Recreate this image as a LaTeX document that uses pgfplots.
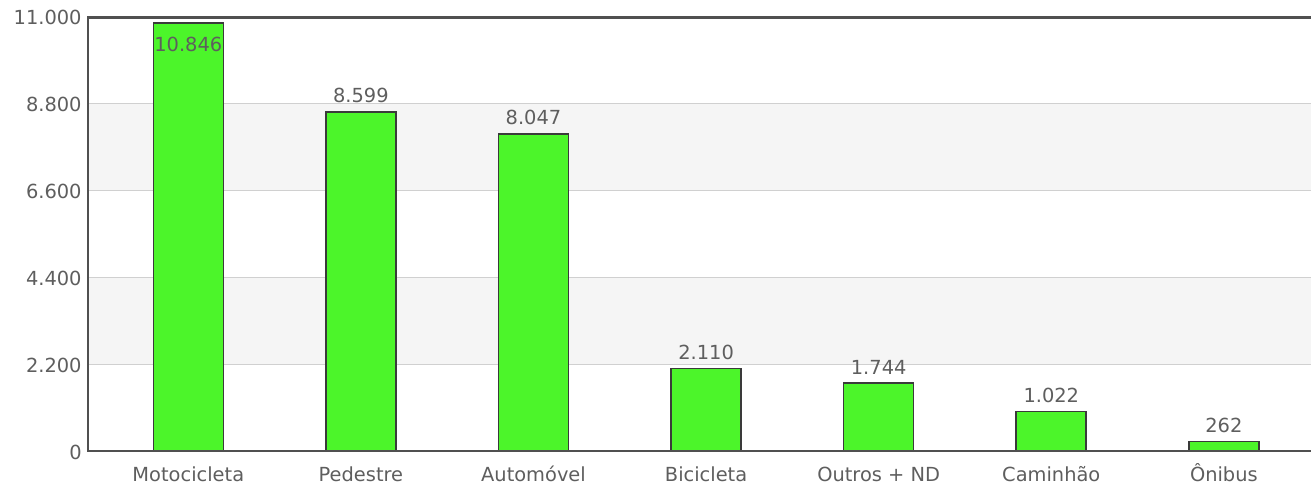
\documentclass[border=0pt]{standalone}
\usepackage{pgfplots}
\pgfplotsset{compat=1.18}
\usepackage{fontspec}
\setmainfont{DejaVu Sans}
\definecolor{barfill}{HTML}{4CF52A}
\definecolor{barline}{HTML}{3A3A3A}
\definecolor{axline}{HTML}{505050}
\definecolor{gridc}{HTML}{D0D0D0}
\definecolor{band}{HTML}{F5F5F5}
\definecolor{txt}{HTML}{5E5E5E}
\begin{document}
\begin{tikzpicture}
\begin{axis}[
  set layers=standard,
  at={(43.5pt,16.5pt)}, anchor=south west,
  scale only axis, width=612pt, height=217.5pt,
  xmin=-0.587, xmax=6.505, ymin=0, ymax=11000,
  ytick={0,2200,4400,6600,8800,11000},
  xtick={0,1,2,3,4,5,6},
  xticklabels={Motocicleta,Pedestre,Automóvel,Bicicleta,Outros + ND,Caminhão,Ônibus},
  scaled y ticks=false,
  /pgf/number format/.cd,1000 sep={.},assume math mode=true,
  /pgfplots/.cd,
  axis line style={draw=none},
  major tick length=0pt,
  ymajorgrids, grid style={gridc, line width=0.5pt},
  ticklabel style={font=\fontsize{9.7}{11}\selectfont, text=txt},
  xticklabel style={inner sep=0pt, text height=7.2pt, text depth=2pt, anchor=north, yshift=-7.6pt},
  yticklabel style={inner sep=0pt, anchor=east, xshift=-2.5pt},
]
\begin{pgfonlayer}{axis background}
\fill[band] (axis cs:-0.587,2200) rectangle (axis cs:6.505,4400);
\fill[band] (axis cs:-0.587,6600) rectangle (axis cs:6.505,8800);
\end{pgfonlayer}
\addplot[ybar, bar width=35pt, bar shift=0pt, fill=barfill, draw=barline, line width=0.8pt,
  point meta=y,
  nodes near coords={\pgfmathprintnumber[1000 sep={.},assume math mode=true]{\pgfplotspointmeta}},
  every node near coord/.append style={anchor=north, inner sep=0pt, yshift=-6.5pt, text=txt, font=\fontsize{9.7}{11}\selectfont}]
  coordinates {(0,10846)};
\addplot[ybar, bar width=35pt, bar shift=0pt, fill=barfill, draw=barline, line width=0.8pt,
  point meta=y,
  nodes near coords={\pgfmathprintnumber[1000 sep={.},assume math mode=true]{\pgfplotspointmeta}},
  every node near coord/.append style={anchor=south, inner sep=0pt, yshift=4pt, text=txt, font=\fontsize{9.7}{11}\selectfont}]
  coordinates {(1,8599) (2,8047) (3,2110) (4,1744) (5,1022) (6,262)};
\draw[axline, line width=1.6pt] (rel axis cs:1,1) -- (rel axis cs:0,1) -- (rel axis cs:0,0) -- (rel axis cs:1,0);
\end{axis}
\pgfresetboundingbox
\path[use as bounding box] (0,0) rectangle (655.5pt,242.5pt);
\end{tikzpicture}
\end{document}
